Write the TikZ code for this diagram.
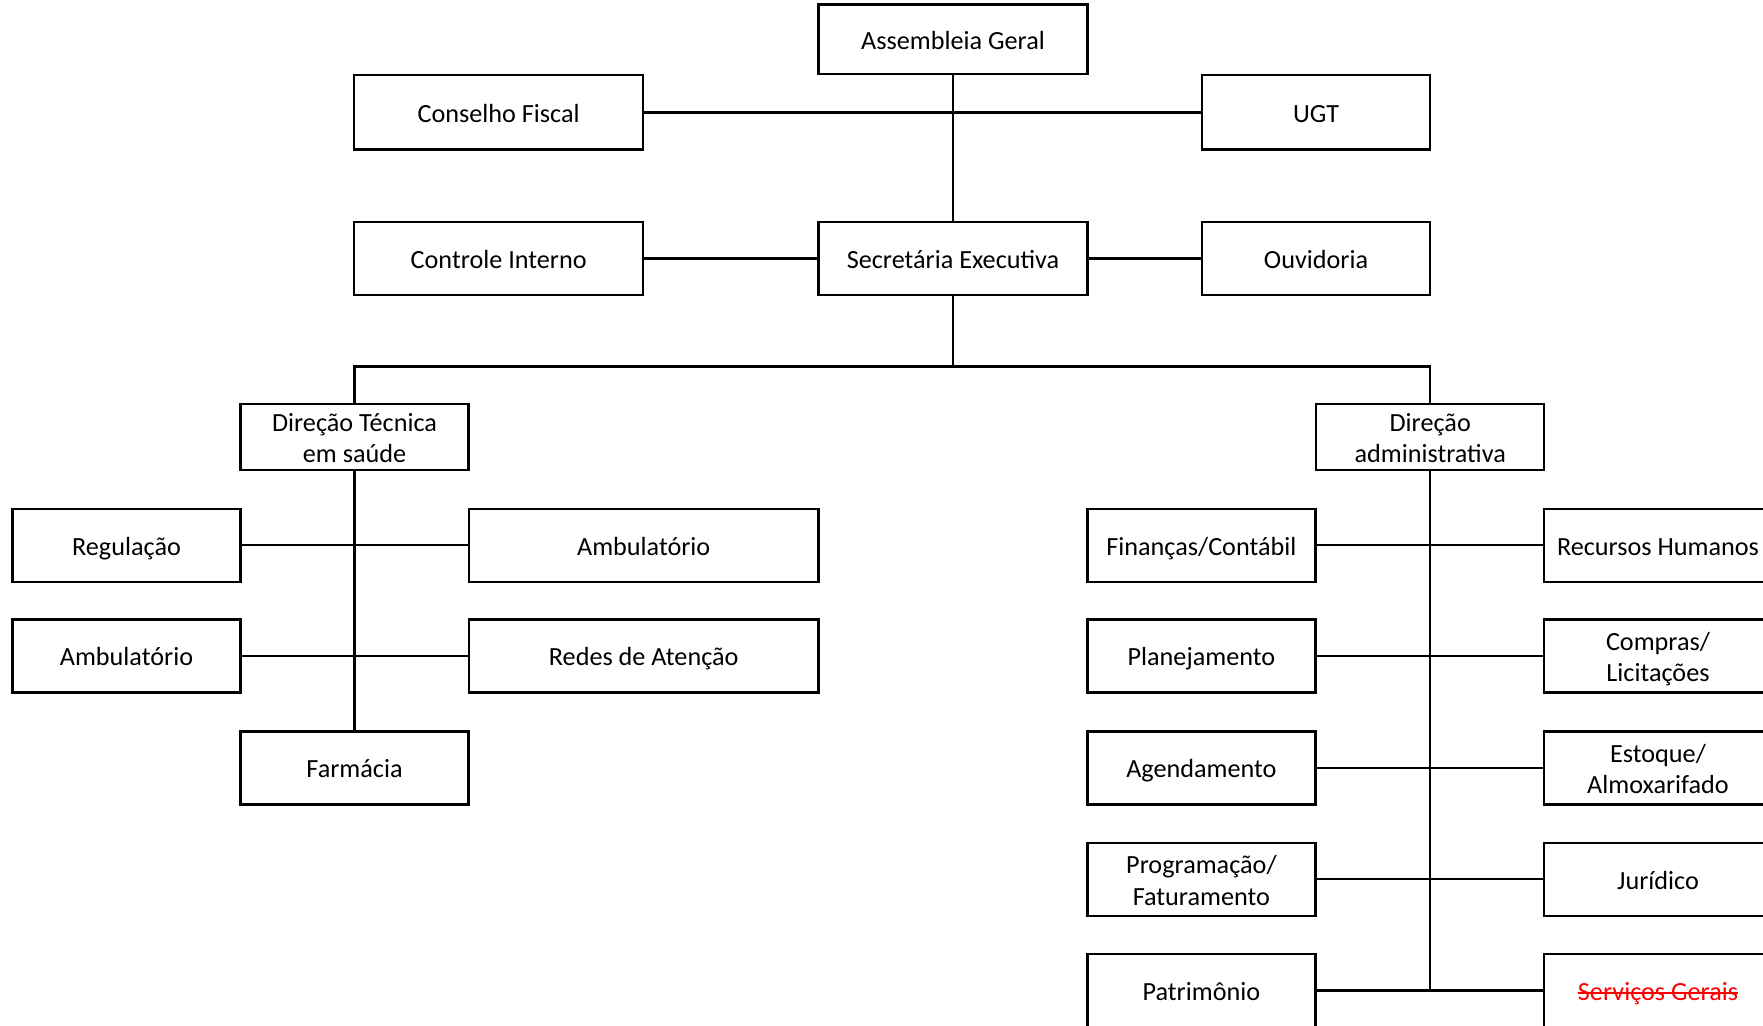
\documentclass[tikz,border=0pt]{standalone}
\usepackage{fontspec}
\setmainfont{Carlito}
\newlength\strklen
\newcommand\strikeout[1]{\settowidth{\strklen}{#1}\rlap{\rule[0.24em]{\strklen}{0.07em}}#1}
\begin{document}
\begin{tikzpicture}[x=0.5pt,y=-0.5pt,
  box/.style={draw, line width=1.15pt, inner sep=0pt, align=center,
    font=\fontsize{13.1}{15.8}\selectfont, minimum height=36.5pt,
    text height=11.5pt, text depth=1.6pt},
  two/.style={text height=27.3pt, text depth=1.6pt},
  wS/.style={box, minimum width=114pt},
  wM/.style={box, minimum width=134.4pt},
  wL/.style={box, minimum width=144.5pt},
  wX/.style={box, minimum width=174.8pt},
  ln/.style={line width=1.15pt}]
\useasboundingbox (0,0) rectangle (1763,1025);
% top
\node[wM, minimum height=34.8pt] (ag) at (953,39.4) {Assembleia Geral};
\node[wL, minimum height=37.1pt] (cf) at (498.7,112.4) {Conselho Fiscal};
\node[wS, minimum height=37.1pt] (ugt) at (1316.1,112.4) {UGT};
\node[wL] (ci) at (498.7,258.6) {Controle Interno};
\node[wM] (se) at (953,258.6) {Secretária Executiva};
\node[wS] (ouv) at (1316.1,258.6) {Ouvidoria};
\coordinate (bus) at (953,366.5);
% directions
\node[wS, two, minimum height=33.2pt] (dt) at (354.5,436.9) {Direção Técnica\\em saúde};
\node[wS, two, minimum height=33.2pt] (da) at (1430.2,436.9) {Direção\\administrativa};
% left branch
\node[wS] (reg) at (126.5,545.3) {Regulação};
\node[wX] (ambr) at (643.7,545.3) {Ambulatório};
\node[wS] (ambl) at (126.5,656) {Ambulatório};
\node[wX] (redes) at (643.7,656) {Redes de Atenção};
\node[wS] (farm) at (354.5,768) {Farmácia};
% right branch
\node[wS] (fin) at (1201.4,545.3) {Finanças/Contábil};
\node[wS] (rh) at (1658,545.3) {Recursos Humanos};
\node[wS] (plan) at (1201.4,656) {Planejamento};
\node[wS, two] (comp) at (1658,656) {Compras/\\Licitações};
\node[wS] (agen) at (1201.4,768) {Agendamento};
\node[wS, two] (est) at (1658,768) {Estoque/\\Almoxarifado};
\node[wS, two] (prog) at (1201.4,879.3) {Programação/\\Faturamento};
\node[wS] (jur) at (1658,879.3) {Jurídico};
\node[wS] (pat) at (1201.4,990.6) {Patrimônio};
\node[wS, text=red] (sg) at (1658,990.6) {\strikeout{Serviços Gerais}};
\coordinate (rbot) at (1430.2,990.6);
% connectors
\draw[ln] (ag.south) -- (se.north);
\draw[ln] (cf.east) -- (ugt.west);
\draw[ln] (ci.east) -- (se.west);
\draw[ln] (se.east) -- (ouv.west);
\draw[ln] (se.south) -- (bus);
\draw[ln] (dt.north) |- (bus) -| (da.north);
\draw[ln] (dt.south) -- (farm.north);
\draw[ln] (reg.east) -- (ambr.west);
\draw[ln] (ambl.east) -- (redes.west);
\draw[ln] (da.south) -- (rbot);
\draw[ln] (fin.east) -- (rh.west);
\draw[ln] (plan.east) -- (comp.west);
\draw[ln] (agen.east) -- (est.west);
\draw[ln] (prog.east) -- (jur.west);
\draw[ln] (pat.east) -- (sg.west);
\end{tikzpicture}
\end{document}
